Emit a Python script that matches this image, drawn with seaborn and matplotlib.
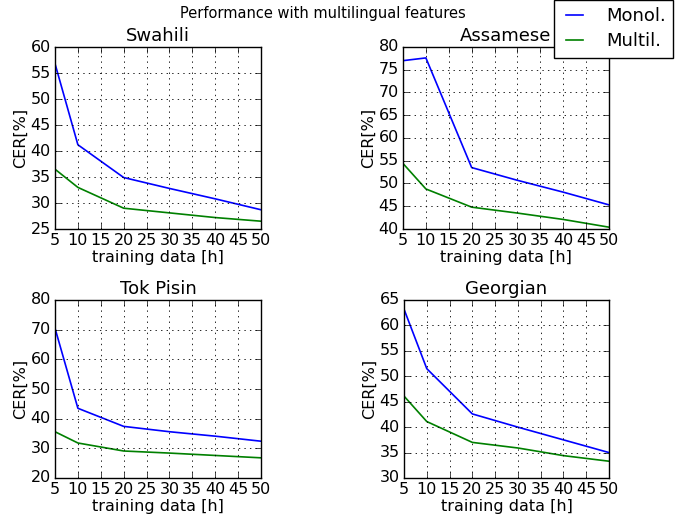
import matplotlib
matplotlib.use("Agg")
import matplotlib.pyplot as plt
import numpy as np
import pandas as pd
import seaborn as sns

# training hours
hours = [5, 10, 20, 30, 40, 50]

languages = ["Swahili", "Assamese", "Tok Pisin", "Georgian"]

swahili_mono = [56.8, 41.2, 34.9, 32.8, 30.8, 28.7]
swahili_multi = [36.5, 33.0, 29.0, 28.1, 27.2, 26.5]

assamese_mono = [77.0, 77.6, 53.5, 50.7, 48.1, 45.3]
assamese_multi = [54.4, 48.8, 44.8, 43.5, 42.1, 40.4]

tokpisin_mono = [70.5, 43.5, 37.4, 35.6, 34.1, 32.4]
tokpisin_multi = [35.6, 31.8, 29.1, 28.4, 27.6, 26.8]

georgian_mono = [63.2, 51.5, 42.6, 40.0, 37.5, 35.0]
georgian_multi = [46.1, 41.1, 37.0, 35.9, 34.4, 33.3]

ylims = [(25, 60), (40, 80), (20, 80), (30, 65)]
ysteps = [5, 5, 10, 5]

series = {
    "Swahili": (swahili_mono, swahili_multi),
    "Assamese": (assamese_mono, assamese_multi),
    "Tok Pisin": (tokpisin_mono, tokpisin_multi),
    "Georgian": (georgian_mono, georgian_multi),
}

plt.style.use("classic")
plt.rcParams["font.family"] = ["DejaVu Sans"]
plt.rcParams["font.size"] = 11

W, H = 685, 516
fig = plt.figure(figsize=(W / 100, H / 100), dpi=100, facecolor="white")

boxes = [
    (55, 47, 206, 182),
    (403, 47, 206, 182),
    (55, 300, 206, 178),
    (404, 300, 205, 178),
]

palette = {"Monol.": "#0000ff", "Multil.": "#008000"}

for lang, box, ylim, ystep in zip(languages, boxes, ylims, ysteps):
    x0, y0, w, h = box
    ax = fig.add_axes([x0 / W, 1 - (y0 + h) / H, w / W, h / H])
    mono, multi = series[lang]
    df = pd.DataFrame({
        "hours": hours * 2,
        "cer": mono + multi,
        "system": ["Monol."] * len(hours) + ["Multil."] * len(hours),
    })
    sns.lineplot(data=df, x="hours", y="cer", hue="system", palette=palette,
                 ax=ax, linewidth=1.2, legend=False)
    ax.set_xlim(5, 50)
    ax.set_ylim(*ylim)
    ax.set_xticks(np.arange(5, 51, 5))
    ax.set_yticks(np.arange(ylim[0], ylim[1] + 1, ystep))
    ax.grid(True, color="black", linestyle=":", linewidth=0.6)
    ax.set_title(lang, fontsize=13, pad=4)
    ax.set_xlabel("training data [h]", fontsize=11.5, labelpad=1)
    ax.set_ylabel("CER[%]", fontsize=11.5, labelpad=2)
    ax.tick_params(labelsize=11.5, direction="in", top=True, right=True, pad=3)

handles = [plt.Line2D([], [], color=palette[k], linewidth=1.2) for k in palette]
fig.legend(handles, list(palette), loc="upper right", bbox_to_anchor=(673 / W, 1.0),
           fontsize=13, frameon=True, borderaxespad=0.0, handlelength=1.5,
           handletextpad=1.0, labelspacing=0.4)
fig.suptitle("Performance with multilingual features", fontsize=10.5,
             x=0.472, y=0.988)

fig.savefig("out.png", dpi=100, facecolor="white")
